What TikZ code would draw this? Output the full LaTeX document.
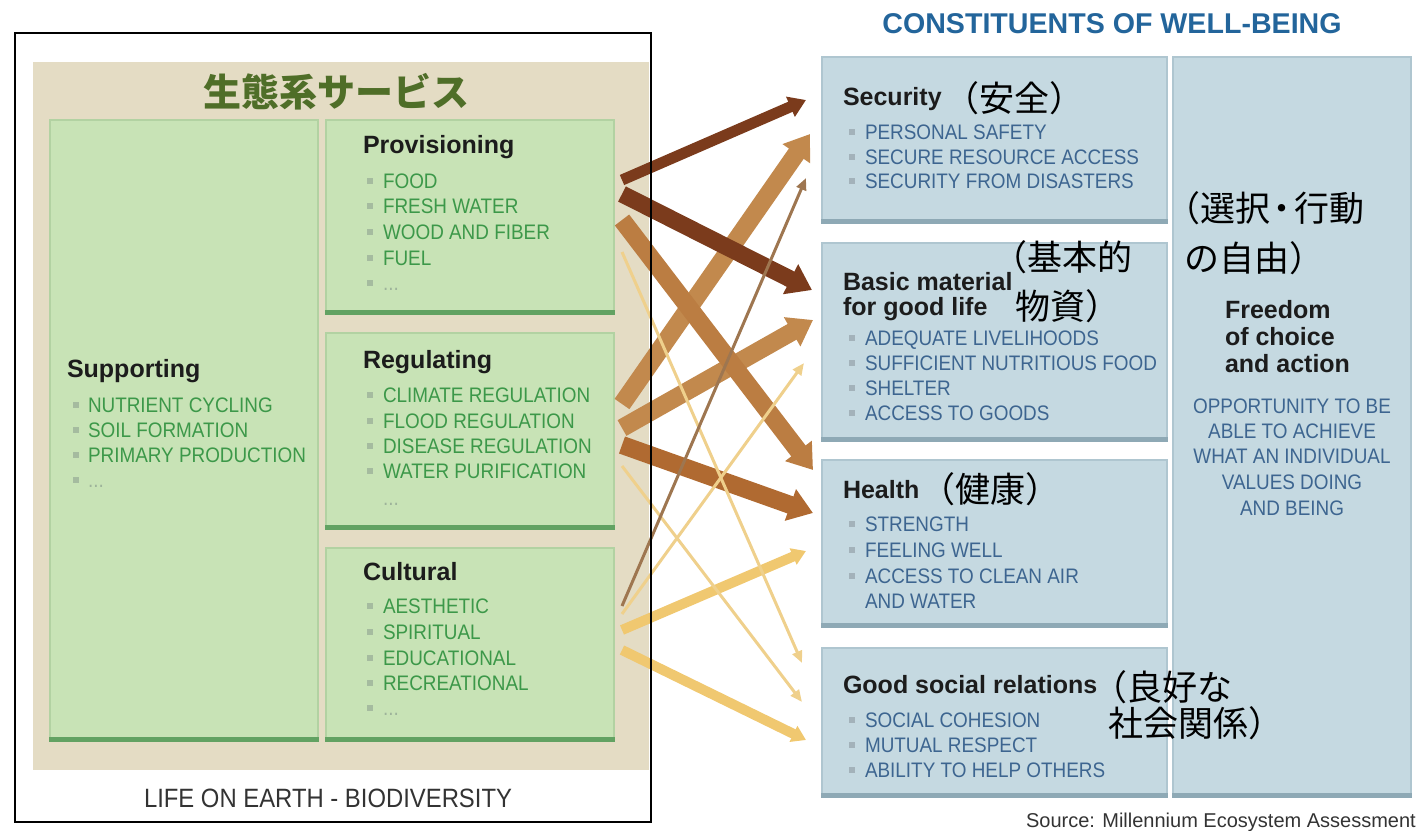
\documentclass[tikz,border=0pt]{standalone}
\usepackage{fontspec}
\setmainfont{Liberation Sans}
\newfontfamily\itemfont[FakeStretch=0.9]{Liberation Sans}
\newfontfamily\cjk{Noto Sans CJK JP}
\usetikzlibrary{arrows.meta}
\definecolor{beige}{HTML}{E4DCC4}
\definecolor{gfill}{HTML}{C8E3B6}
\definecolor{gline}{HTML}{B2D2A2}
\definecolor{gbar}{HTML}{62A262}
\definecolor{bfill}{HTML}{C5D9E1}
\definecolor{bline}{HTML}{AFC6D0}
\definecolor{bbar}{HTML}{8EA9B5}
\definecolor{gtxt}{HTML}{3C9849}
\definecolor{btxt}{HTML}{3D6590}
\definecolor{gbulc}{HTML}{A5BB9F}
\definecolor{bbulc}{HTML}{A3B2BA}
\definecolor{ttl}{HTML}{23659B}
\definecolor{jgreen}{HTML}{4F6E28}
\definecolor{hdrc}{HTML}{1C1C1C}
\definecolor{darkbr}{HTML}{7B3B1C}
\definecolor{brA}{HTML}{BB7D42}
\definecolor{brB}{HTML}{C2894D}
\definecolor{brC}{HTML}{B06A31}
\definecolor{thinbr}{HTML}{9E7650}
\definecolor{yelthin}{HTML}{EFD08C}
\definecolor{yelmed}{HTML}{F0C870}
\definecolor{dotsc}{HTML}{9DB39A}
\definecolor{greytxt}{HTML}{333333}
\tikzset{
  txt/.style={inner sep=0pt, outer sep=0pt, anchor=base west},
  hdr/.style={txt, text=hdrc, font=\fontsize{25}{30}\selectfont\bfseries},
  gitem/.style={txt, text=gtxt, font=\itemfont\fontsize{21}{25}\selectfont},
  bitem/.style={txt, text=btxt, font=\itemfont\fontsize{21}{25}\selectfont},
  jp/.style={txt, text=black, font=\cjk\fontsize{35}{40}\selectfont},
  gbul/.style={fill=gbulc, minimum size=6pt, inner sep=0pt},
  bbul/.style={fill=bbulc, minimum size=6pt, inner sep=0pt},
  gbox/.style={fill=gfill, draw=gline, line width=1.2pt, inner sep=0pt},
  bbox/.style={fill=bfill, draw=bline, line width=1.2pt, inner sep=0pt},
  gedge/.style={draw=gbar, line width=5pt},
  bedge/.style={draw=bbar, line width=5pt},
  heavyarr/.style={line width=18pt, -{Triangle[width=32pt,length=24pt]}},
  darkarr/.style={line width=11pt, -{Triangle[width=21pt,length=17pt]}},
  medarr/.style={line width=10pt, -{Triangle[width=17pt,length=14pt]}},
  thinarr/.style={line width=3pt, -{Triangle[width=10pt,length=12pt]}},
}
\begin{document}
\begin{tikzpicture}[x=1pt,y=-1pt]
\useasboundingbox (0,0) rectangle (1419,830);
% ---------- left panel ----------
\node[fill=beige, inner sep=0pt, minimum width=616pt, minimum height=708pt] (panel) at (341,416) {};
\node[anchor=base, inner sep=0pt, text=jgreen, font=\cjk\bfseries\fontsize{38}{44}\selectfont] (jtitle) at (336,106) {生態系サービス};

\node[gbox, minimum width=268pt, minimum height=621pt] (sup) at (184,430.5) {};
\node[gbox, minimum width=288pt, minimum height=194pt] (prov) at (470,217) {};
\node[gbox, minimum width=288pt, minimum height=196pt] (reg) at (470,431) {};
\node[gbox, minimum width=288pt, minimum height=193pt] (cult) at (470,644.5) {};
\foreach \b in {sup,prov,reg,cult}
  \draw[gedge] ([yshift=2.5pt]\b.south west) -- ([yshift=2.5pt]\b.south east);

\node[hdr] (suph) at (67,377) {Supporting};
\foreach \y/\t [count=\i] in {412/NUTRIENT CYCLING,437/SOIL FORMATION,462/PRIMARY PRODUCTION}{
  \node[gbul] (sb\i) at (76,{\y-7}) {};
  \node[gitem] (st\i) at (88,\y) {\t};
}
\node[gbul] (sb4) at (76,480) {};
\node[gitem, text=dotsc] (st4) at (88,487) {...};

\node[hdr] (provh) at (363,153) {Provisioning};
\foreach \y/\t [count=\i] in {188/FOOD,213/FRESH WATER,239/WOOD AND FIBER,265/FUEL}{
  \node[gbul] (pb\i) at (370,{\y-7}) {};
  \node[gitem] (pt\i) at (383,\y) {\t};
}
\node[gbul] (pb5) at (370,283) {};
\node[gitem, text=dotsc] (pt5) at (383,290) {...};

\node[hdr] (regh) at (363,368) {Regulating};
\foreach \y/\t [count=\i] in {402/CLIMATE REGULATION,428/FLOOD REGULATION,453/DISEASE REGULATION,478/WATER PURIFICATION}{
  \node[gbul] (rb\i) at (370,{\y-7}) {};
  \node[gitem] (rt\i) at (383,\y) {\t};
}
\node[gitem, text=dotsc] (rt5) at (383,505) {...};

\node[hdr] (culth) at (363,580) {Cultural};
\foreach \y/\t [count=\i] in {613/AESTHETIC,639/SPIRITUAL,665/EDUCATIONAL,690/RECREATIONAL}{
  \node[gbul] (cb\i) at (370,{\y-7}) {};
  \node[gitem] (ct\i) at (383,\y) {\t};
}
\node[gbul] (cb5) at (370,708) {};
\node[gitem, text=dotsc] (ct5) at (383,715) {...};

\node[anchor=base, inner sep=0pt, text=greytxt, font=\itemfont\fontsize{26.5}{30}\selectfont] (life) at (328,807) {LIFE ON EARTH - BIODIVERSITY};

% ---------- right panel ----------
\node[anchor=base, inner sep=0pt, text=ttl, font=\fontsize{28.6}{32}\selectfont\bfseries] (ctitle) at (1112,33) {CONSTITUENTS OF WELL-BEING};

\node[bbox, minimum width=345pt, minimum height=166pt] (sec) at (994.5,140) {};
\node[bbox, minimum width=345pt, minimum height=198pt] (bas) at (994.5,342) {};
\node[bbox, minimum width=345pt, minimum height=167pt] (hea) at (994.5,543.5) {};
\node[bbox, minimum width=345pt, minimum height=149pt] (soc) at (994.5,722.5) {};
\node[bbox, minimum width=238pt, minimum height=740pt] (fre) at (1292,427) {};
\foreach \b in {sec,bas,hea,soc,fre}
  \draw[bedge] ([yshift=2.5pt]\b.south west) -- ([yshift=2.5pt]\b.south east);

% Security
\node[hdr] (sech) at (843,105) {Security};
\node[jp] (secj) at (944,111) {（安全）};
\foreach \y/\t [count=\i] in {139/PERSONAL SAFETY,164/SECURE RESOURCE ACCESS,188/SECURITY FROM DISASTERS}{
  \node[bbul] (eb\i) at (852,{\y-7}) {};
  \node[bitem] (et\i) at (865,\y) {\t};
}
% Basic material
\node[hdr] (bash1) at (843,290) {Basic material};
\node[hdr] (bash2) at (843,315) {for good life};
\node[jp] (basj1) at (992,270) {（基本的};
\node[jp] (basj2) at (1015,319) {物資）};
\foreach \y/\t [count=\i] in {345/ADEQUATE LIVELIHOODS,370/SUFFICIENT NUTRITIOUS FOOD,395/SHELTER,420/ACCESS TO GOODS}{
  \node[bbul] (ab\i) at (852,{\y-7}) {};
  \node[bitem] (at\i) at (865,\y) {\t};
}
% Health
\node[hdr] (heah) at (843,498) {Health};
\node[jp] (heaj) at (920,502) {（健康）};
\foreach \y/\t [count=\i] in {531/STRENGTH,557/FEELING WELL,583/ACCESS TO CLEAN AIR}{
  \node[bbul] (hb\i) at (852,{\y-7}) {};
  \node[bitem] (ht\i) at (865,\y) {\t};
}
\node[bitem] (ht4) at (865,608) {AND WATER};
% Good social relations
\node[hdr] (soch) at (843,693) {Good social relations};
\node[jp] (socj1) at (1092,700) {（良好な};
\node[jp] (socj2) at (1108,736) {社会関係）};
\foreach \y/\t [count=\i] in {727/SOCIAL COHESION,752/MUTUAL RESPECT,777/ABILITY TO HELP OTHERS}{
  \node[bbul] (gb\i) at (852,{\y-7}) {};
  \node[bitem] (gt\i) at (865,\y) {\t};
}
% Freedom
\node[jp] (frej1) at (1165,221) {（選択\kern-0.15em・\kern-0.15em 行動};
\node[jp] (frej2) at (1184,271) {の自由）};
\node[hdr] (freh1) at (1225,318) {Freedom};
\node[hdr] (freh2) at (1225,345) {of choice};
\node[hdr] (freh3) at (1225,372) {and action};
\foreach \y/\t [count=\i] in {413/OPPORTUNITY TO BE,438/ABLE TO ACHIEVE,463/WHAT AN INDIVIDUAL,489/VALUES DOING,515/AND BEING}{
  \node[bitem, anchor=base] (ft\i) at (1292,\y) {\t};
}

\node[anchor=base east, inner sep=0pt, text=greytxt, font=\fontsize{20}{24}\selectfont] (src) at (1416,827) {Source: Millennium Ecosystem Assessment};

% ---------- arrow end points ----------
\coordinate (po1) at (622,180); \coordinate (po2) at (622,194);
\coordinate (po3) at (622,220); \coordinate (po4) at (622,252);
\coordinate (ro1) at (622,404); \coordinate (ro2) at (622,428);
\coordinate (ro3) at (622,445); \coordinate (ro4) at (622,466);
\coordinate (co1) at (622,606); \coordinate (co2) at (622,614);
\coordinate (co3) at (622,630); \coordinate (co4) at (622,650);
\coordinate (si1) at (806,100); \coordinate (si2) at (810,134); \coordinate (si3) at (806,178);
\coordinate (bi1) at (812,290); \coordinate (bi2) at (813,320); \coordinate (bi3) at (804,363);
\coordinate (hi1) at (813,470); \coordinate (hi2) at (813,513); \coordinate (hi3) at (806,551);
\coordinate (gi1) at (802,663); \coordinate (gi2) at (802,702); \coordinate (gi3) at (806,740);

% heavy brown arrows
\draw[heavyarr, color=brB] (ro1) -- (si2);
\draw[heavyarr, color=brB] (ro2) -- (bi2);
\draw[heavyarr, color=brA] (po3) -- (hi1);
\draw[heavyarr, color=brC] (ro3) -- (hi2);
% dark arrows
\draw[darkarr, color=darkbr] (po1) -- (si1);
\draw[heavyarr, color=darkbr, line width=17pt] (po2) -- (bi1);
% medium yellow
\draw[medarr, color=yelmed] (co3) -- (hi3);
\draw[medarr, color=yelmed] (co4) -- (gi3);
% thin arrows
\draw[thinarr, color=yelthin] (po4) -- (gi1);
\draw[thinarr, color=yelthin] (ro4) -- (gi2);
\draw[thinarr, color=yelthin] (co2) -- (bi3);
\draw[thinarr, color=thinbr] (co1) -- (si3);

% frame on top
\node[draw=black, line width=2pt, inner sep=0pt, minimum width=636pt, minimum height=789pt] (frame) at (333,427.5) {};
\end{tikzpicture}
\end{document}
